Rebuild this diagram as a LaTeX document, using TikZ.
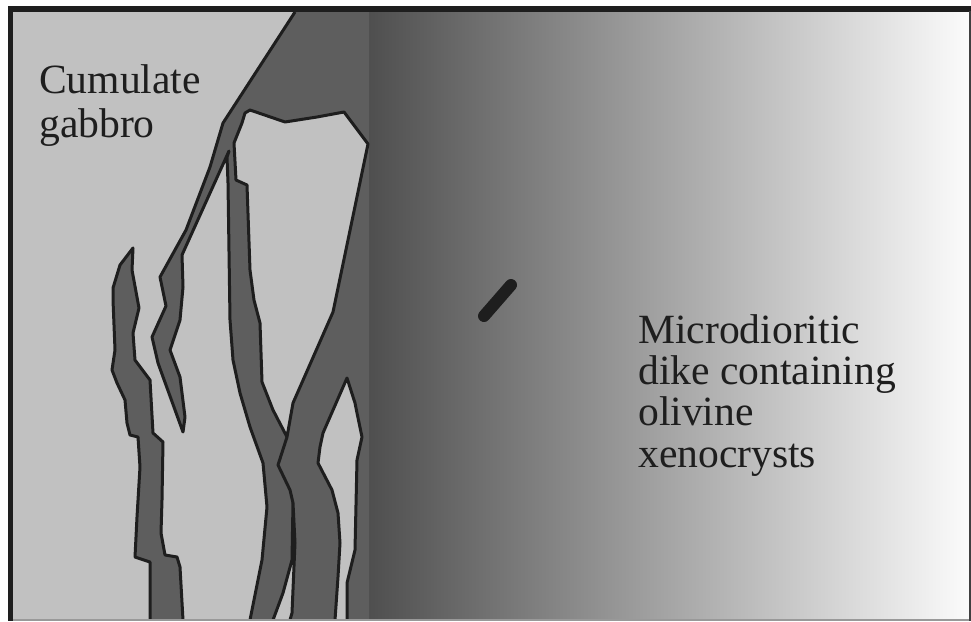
\documentclass[tikz,border=0pt]{standalone}
\usepackage{fontspec}
\setmainfont{Liberation Serif}
\definecolor{rock}{HTML}{C1C1C1}
\definecolor{dikegray}{HTML}{5E5E5E}
\definecolor{ink}{HTML}{1E1E1E}
\definecolor{fadeA}{HTML}{4F4F4F}
\definecolor{fadeB}{HTML}{FBFBFB}
\begin{document}
\begin{tikzpicture}[x=1pt,y=-1pt,
  contour/.style={draw=ink, line width=3pt, line join=round},
  label/.style={anchor=base west, inner sep=0pt, text=ink}]
\useasboundingbox (0,0) rectangle (971,621);
\fill[white] (0,0) rectangle (971,621);

% host gabbro and the graded microdiorite dike
\fill[rock] (13,12) rectangle (369,620);
\shade[left color=fadeA, right color=fadeB] (369,12) rectangle (969,620);

% main dark apophysis with its diagonal and vertical branches
\fill[dikegray] (295,12) -- (369,12) -- (369,620) -- (250,620) -- (262,560) -- (267,507)
  -- (263,463) -- (250,427) -- (240,393) -- (233,360) -- (230,320) -- (228,183)
  -- (227,157) -- (229,151) -- (182,255) -- (183,287) -- (180,320) -- (170,350)
  -- (180,377) -- (185,417) -- (183,432) -- (158,363) -- (152,337) -- (166,306)
  -- (160,277) -- (186,230) -- (210,167) -- (223,123) -- cycle;
\draw[contour] (295,12) -- (223,123) -- (210,167) -- (186,230) -- (160,277) -- (166,306)
  -- (152,337) -- (158,363) -- (183,432) -- (185,417) -- (180,377) -- (170,350)
  -- (180,320) -- (183,287) -- (182,255) -- (229,151) -- (227,157) -- (228,183)
  -- (230,320) -- (233,360) -- (240,393) -- (250,427) -- (263,463) -- (267,507)
  -- (262,560) -- (250,620);

% large gabbro block enclosed by the dike
\filldraw[fill=rock, contour] (245,113) -- (250,110) -- (285,122) -- (317,117) -- (344,112)
  -- (368,144) -- (333,312) -- (293,403) -- (287,437) -- (273,410) -- (262,382)
  -- (260,323) -- (254,300) -- (250,270) -- (247,185) -- (236,180) -- (234,143)
  -- (242,123) -- cycle;

% split between the vertical branch and the main strand
\draw[contour] (287,437) -- (278,465) -- (290,490) -- (293,503);

% thin gabbro sliver
\fill[rock] (293,503) -- (295,543) -- (292,613) -- (290,620) -- (273,620) -- (283,593)
  -- (292,560) -- cycle;
\draw[contour] (290,620) -- (292,613) -- (295,543) -- (293,503) -- (292,560) -- (283,593)
  -- (273,620);

% narrow gabbro screen near the contact
\fill[rock] (347,378) -- (355,403) -- (357,413) -- (362,437) -- (357,460) -- (355,550)
  -- (347,583) -- (347,620) -- (335,620) -- (338,577) -- (340,543) -- (338,513)
  -- (332,490) -- (318,463) -- (320,447) -- (323,433) -- cycle;
\draw[contour] (347,620) -- (347,583) -- (355,550) -- (357,460) -- (362,437) -- (357,413)
  -- (355,403) -- (347,378) -- (323,433) -- (320,447) -- (318,463) -- (332,490)
  -- (338,513) -- (340,543) -- (338,577) -- (335,620);

% isolated vein on the left
\fill[dikegray] (133,248) -- (120,265) -- (113,288) -- (113,300) -- (115,350) -- (112,370)
  -- (117,383) -- (125,400) -- (127,423) -- (130,435) -- (138,437) -- (140,467)
  -- (137,517) -- (135,557) -- (150,562) -- (150,620) -- (183,620) -- (180,567)
  -- (177,557) -- (165,555) -- (161,533) -- (162,500) -- (163,442) -- (153,433)
  -- (150,380) -- (135,360) -- (133,333) -- (139,308) -- (132,270) -- cycle;
\draw[contour] (150,620) -- (150,562) -- (135,557) -- (137,517) -- (140,467) -- (138,437)
  -- (130,435) -- (127,423) -- (125,400) -- (117,383) -- (112,370) -- (115,350)
  -- (113,300) -- (113,288) -- (120,265) -- (133,248) -- (132,270) -- (139,308)
  -- (133,333) -- (135,360) -- (150,380) -- (153,433) -- (163,442) -- (162,500)
  -- (161,533) -- (165,555) -- (177,557) -- (180,567) -- (183,620);

% olivine xenocryst
\draw[ink, line width=12pt, line cap=round] (484,316) -- (511,285);

% frame
\draw[ink, line width=5.5pt] (8,8.75) -- (971,8.75);
\draw[ink, line width=5pt] (10.5,6) -- (10.5,621);
\draw[black!75, line width=2pt] (970,11) -- (970,621);
\draw[black!40, line width=1.5pt] (13,620.2) -- (969,620.2);

% labels
\node[label] (gabbro) at (39,93.3)
  {\fontsize{41.6}{44}\selectfont\begin{tabular}[t]{@{}l@{}}Cumulate\\gabbro\end{tabular}};
\node[label] (microdiorite) at (638,343.3)
  {\fontsize{41.6}{41.3}\selectfont\begin{tabular}[t]{@{}l@{}}Microdioritic\\dike containing\\olivine\\xenocrysts\end{tabular}};
\end{tikzpicture}
\end{document}
